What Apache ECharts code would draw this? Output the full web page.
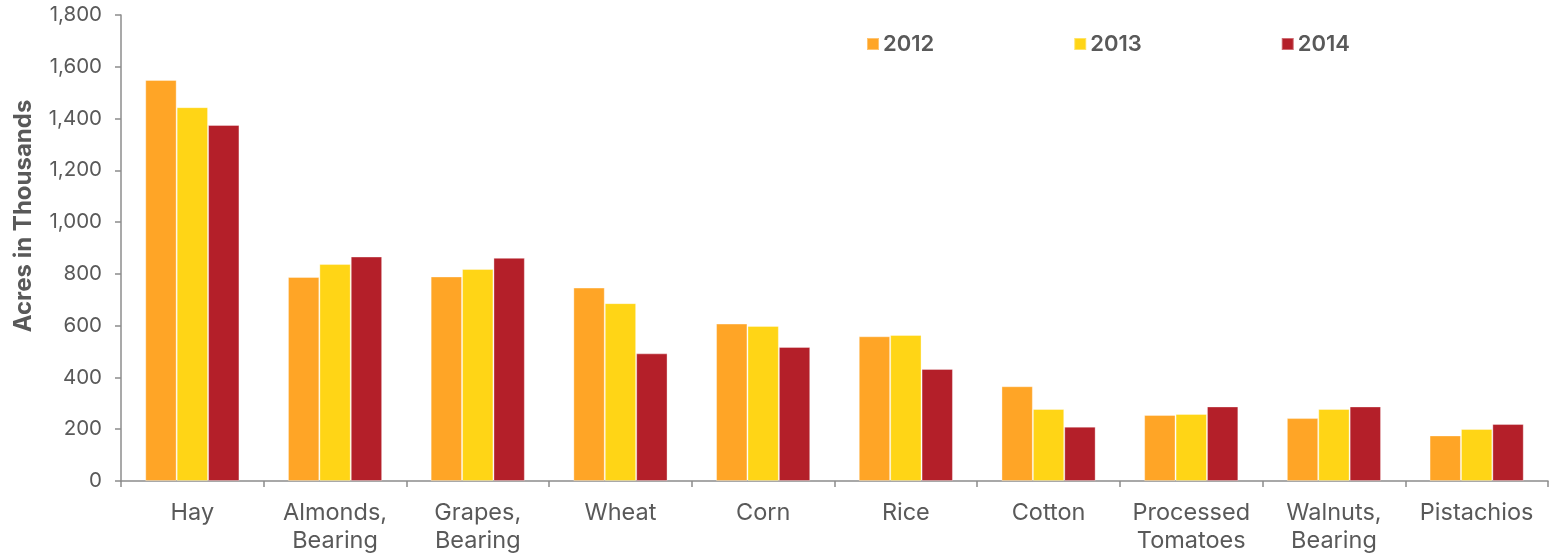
<!DOCTYPE html>
<html>
<head>
<meta charset="utf-8">
<script src="https://cdn.jsdelivr.net/npm/echarts@6/dist/echarts.min.js"></script>
<style>
html,body{margin:0;padding:0;background:#fff;}
#chart{width:1550px;height:553px;}
</style>
</head>
<body>
<div id="chart"></div>
<script>
const categories = ['Hay', 'Almonds,\nBearing', 'Grapes,\nBearing', 'Wheat', 'Corn', 'Rice', 'Cotton', 'Processed\nTomatoes', 'Walnuts,\nBearing', 'Pistachios'];
const seriesNames = ['2012', '2013', '2014'];
const values2012 = [1549, 788, 790, 747, 608, 559, 366, 255, 243, 176];
const values2013 = [1444, 838, 819, 687, 599, 564, 278, 259, 278, 201];
const values2014 = [1375, 867, 862, 493, 518, 433, 210, 288, 288, 220];
const yTicks = { min: 0, max: 1800, interval: 200 };
const colors = ['#FFA526', '#FFD516', '#B41F29'];

const font = 'Inter';
const textColor = '#595959';
const axisColor = '#8C8C8C';

const chart = echarts.init(document.getElementById('chart'), null, { renderer: 'canvas' });
const dataSets = [values2012, values2013, values2014];
chart.setOption({
  animation: false,
  color: colors,
  grid: { left: 121, right: 2, top: 15, bottom: 72, containLabel: false, outerBoundsMode: 'none' },
  legend: {
    data: seriesNames,
    left: 861,
    top: 28,
    icon: 'rect',
    itemWidth: 12,
    itemHeight: 12,
    itemGap: 139,
    textStyle: { fontFamily: font, fontSize: 22, fontWeight: 600, color: textColor, padding: [0, 0, 0, -1] }
  },
  xAxis: {
    type: 'category',
    data: categories,
    axisLine: { lineStyle: { color: axisColor, width: 1.5 } },
    axisTick: { show: true, length: 6, lineStyle: { color: axisColor, width: 1.5 } },
    axisLabel: { interval: 0, margin: 18, fontFamily: font, fontSize: 23.5, color: textColor, lineHeight: 28 }
  },
  yAxis: {
    type: 'value',
    min: yTicks.min,
    max: yTicks.max,
    interval: yTicks.interval,
    name: 'Acres in Thousands',
    nameLocation: 'middle',
    nameGap: 85,
    nameTextStyle: { fontFamily: font, fontSize: 24, fontWeight: 'bold', color: textColor, padding: [0, 0, 0, 64] },
    axisLine: { show: true, lineStyle: { color: axisColor, width: 1.5 } },
    axisTick: { show: true, length: 6, lineStyle: { color: axisColor, width: 1.5 } },
    splitLine: { show: false },
    axisLabel: {
      margin: 19,
      fontFamily: font,
      fontSize: 20.5,
      color: textColor,
      formatter: v => v.toLocaleString('en-US')
    }
  },
  series: seriesNames.map((name, i) => ({
    name: name,
    type: 'bar',
    data: dataSets[i],
    barGap: '0%',
    barCategoryGap: '34%',
    itemStyle: { color: colors[i], borderColor: 'rgba(255,255,255,0.35)', borderWidth: 1 }
  }))
});
</script>
</body>
</html>
